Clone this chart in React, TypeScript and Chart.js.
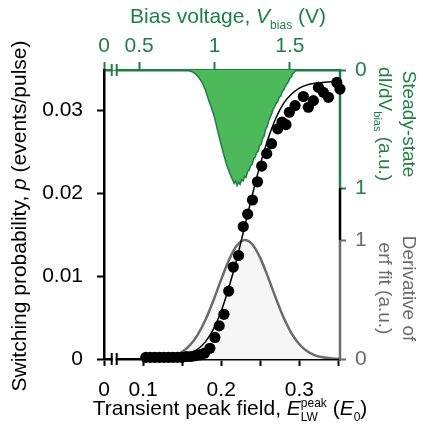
import React, { useEffect, useRef } from 'react';
import { Chart, registerables } from 'chart.js';

Chart.register(...registerables);

// ---- data ----
const fieldE = [0.1035, 0.1092, 0.115, 0.1208, 0.1265, 0.1323, 0.1381, 0.1438, 0.1496, 0.1554, 0.1612, 0.1669, 0.1727, 0.1785, 0.1855, 0.1919, 0.1974, 0.2035, 0.2096, 0.2154, 0.2221, 0.2282, 0.2338, 0.24, 0.2464, 0.2518, 0.2582, 0.2644, 0.2723, 0.2778, 0.2829, 0.2872, 0.2945, 0.3051, 0.3115, 0.3179, 0.3244, 0.3308, 0.3372, 0.3479, 0.352];
const switchP = [0.0002, 0.0002, 0.0002, 0.0002, 0.0002, 0.0002, 0.0002, 0.0002, 0.0002, 0.0003, 0.0003, 0.0004, 0.0005, 0.0007, 0.0013, 0.0026, 0.004, 0.0054, 0.0082, 0.0111, 0.0125, 0.016, 0.0175, 0.0192, 0.0214, 0.0233, 0.0248, 0.026, 0.0278, 0.0286, 0.0283, 0.0298, 0.0306, 0.0317, 0.0304, 0.0312, 0.0328, 0.0322, 0.0316, 0.0334, 0.0326];

const fitE = [0.1, 0.12, 0.14, 0.15, 0.16, 0.17, 0.18, 0.19, 0.2, 0.21, 0.22, 0.23, 0.24, 0.25, 0.26, 0.27, 0.28, 0.29, 0.3, 0.31, 0.32, 0.33, 0.35];
const fitP = [0, 0, 0.0001, 0.0003, 0.0006, 0.0012, 0.0021, 0.0036, 0.0058, 0.0087, 0.0121, 0.016, 0.0199, 0.0235, 0.0266, 0.0291, 0.0309, 0.032, 0.0327, 0.0331, 0.0333, 0.0334, 0.0335];

const derivE = [0.1, 0.12, 0.14, 0.15, 0.16, 0.17, 0.18, 0.19, 0.2, 0.21, 0.22, 0.23, 0.24, 0.25, 0.26, 0.27, 0.28, 0.29, 0.3, 0.31, 0.32, 0.33, 0.34, 0.35];
const derivY = [0.0006, 0.005, 0.029, 0.061, 0.116, 0.205, 0.332, 0.492, 0.669, 0.834, 0.953, 1.0, 0.962, 0.848, 0.686, 0.51, 0.346, 0.216, 0.124, 0.065, 0.031, 0.014, 0.0056, 0.002];

const biasV = [0.27, 0.8, 0.83, 0.86, 0.88, 0.9, 0.92, 0.94, 0.96, 0.98, 1.0, 1.02, 1.04, 1.06, 1.08, 1.1, 1.12, 1.13, 1.14, 1.15, 1.16, 1.17, 1.18, 1.19, 1.2, 1.21, 1.22, 1.23, 1.24, 1.25, 1.26, 1.27, 1.28, 1.29, 1.3, 1.31, 1.32, 1.33, 1.34, 1.35, 1.36, 1.37, 1.38, 1.39, 1.4, 1.41, 1.42, 1.43, 1.44, 1.45, 1.46, 1.47, 1.48, 1.49, 1.5, 1.51, 1.52, 1.53, 1.54];
const dIdV = [0, 0, 0.005, 0.02, 0.04, 0.07, 0.11, 0.17, 0.25, 0.32, 0.4, 0.51, 0.61, 0.71, 0.8, 0.87, 0.93, 0.96, 0.94, 0.98, 0.95, 0.97, 0.93, 0.94, 0.9, 0.91, 0.86, 0.85, 0.81, 0.8, 0.75, 0.74, 0.7, 0.69, 0.64, 0.63, 0.58, 0.56, 0.5, 0.48, 0.43, 0.4, 0.37, 0.33, 0.31, 0.28, 0.27, 0.23, 0.22, 0.18, 0.17, 0.14, 0.12, 0.1, 0.07, 0.06, 0.03, 0.02, 0];

// ---- ticks ----
const xTickVals = [0.05, 0.1, 0.15, 0.2, 0.25, 0.3, 0.35];
const xTickLabels = ['0', '0.1', '', '0.2', '', '0.3', ''];
const x2TickVals = [0.267, 0.5, 1, 1.5];
const x2TickLabels = ['0', '0.5', '1', '1.5'];
const yTickVals = [0, 0.01, 0.02, 0.03];
const yTickLabels = ['0', '0.01', '0.02', '0.03'];
const yGTickVals = [0, 1];
const yGTickLabels = ['0', '1'];
const yDTickVals = [0, 1];
const yDTickLabels = ['0', '1'];

const FONT = "'Liberation Sans', Arial, Helvetica, sans-serif";
const GREEN = '#1f7f45';
const GREEN_FILL = '#4cb95a';
const GREY = '#6b6b6b';
const BASE = 21;
const RBASE = 19;
const SMALL = 12;

type Seg = { t?: string; it?: boolean; sz?: number; sup?: string; sub?: string };

function fontOf(it: boolean, sz: number) {
  return `${it ? 'italic ' : ''}${sz}px ${FONT}`;
}

function segWidth(ctx: CanvasRenderingContext2D, s: Seg, base: number) {
  if (s.sup !== undefined || s.sub !== undefined) {
    ctx.font = fontOf(false, s.sz ?? SMALL);
    return Math.max(ctx.measureText(s.sup || '').width, ctx.measureText(s.sub || '').width);
  }
  ctx.font = fontOf(!!s.it, s.sz ?? base);
  return ctx.measureText(s.t || '').width;
}

function drawRich(ctx: CanvasRenderingContext2D, segs: Seg[], x: number, y: number, rot: number, color: string, base: number) {
  ctx.save();
  ctx.translate(x, y);
  ctx.rotate(rot);
  ctx.fillStyle = color;
  ctx.textBaseline = 'alphabetic';
  ctx.textAlign = 'left';
  const widths = segs.map((s) => segWidth(ctx, s, base));
  let cx = -widths.reduce((a, b) => a + b, 0) / 2;
  segs.forEach((s, i) => {
    if (s.sup !== undefined || s.sub !== undefined) {
      ctx.font = fontOf(false, s.sz ?? SMALL);
      if (s.sup) ctx.fillText(s.sup, cx, -base * 0.4);
      if (s.sub) ctx.fillText(s.sub, cx, base * 0.27);
    } else {
      ctx.font = fontOf(!!s.it, s.sz ?? base);
      ctx.fillText(s.t || '', cx, 0);
    }
    cx += widths[i];
  });
  ctx.restore();
}

const decorPlugin = {
  id: 'decor',
  afterLayout(chart: any) {
    const s = chart.scales.yG;
    s.right = chart.width;
    s.width = chart.width - s.left;
  },
  beforeDatasetsDraw(chart: any) {
    const { ctx, chartArea } = chart;
    const { left, right, top, bottom } = chartArea;
    const yG1 = chart.scales.yG.getPixelForValue(1);
    const yD1 = chart.scales.yD.getPixelForValue(1);
    ctx.save();
    ctx.lineWidth = 2.5;
    const seg = (a: number, b: number, c: string) => {
      ctx.strokeStyle = c;
      ctx.beginPath();
      ctx.moveTo(right, a);
      ctx.lineTo(right, b);
      ctx.stroke();
    };
    seg(top - 1.2, yG1, GREEN);
    seg(yG1, yD1, '#000');
    seg(yD1, bottom + 1.2, GREY);
    // axis breaks
    const brk = (y: number, color: string) => {
      ctx.fillStyle = '#fff';
      ctx.fillRect(left + 8.7, y - 2, 3, 4);
      ctx.strokeStyle = color;
      ctx.lineWidth = 2;
      [left + 7.7, left + 12.7].forEach((bx) => {
        ctx.beginPath();
        ctx.moveTo(bx, y - 6);
        ctx.lineTo(bx, y + 6);
        ctx.stroke();
      });
    };
    brk(bottom, '#000');
    brk(top, GREEN);
    ctx.restore();
  },
  afterDraw(chart: any) {
    const ctx = chart.ctx as CanvasRenderingContext2D;
    const { top, bottom } = chart.chartArea;
    const yG1 = chart.scales.yG.getPixelForValue(1);
    const yD1 = chart.scales.yD.getPixelForValue(1);
    // top title
    drawRich(ctx, [{ t: 'Bias voltage, ' }, { t: 'V', it: true }, { sub: 'bias' }, { t: ' (V)' }], 228, 23, 0, GREEN, BASE);
    // bottom title
    drawRich(ctx, [{ t: 'Transient peak field, ' }, { t: 'E', it: true }, { sup: 'peak', sub: 'LW' }, { t: ' (' }, { t: 'E', it: true }, { sub: '0' }, { t: ')' }], 230, 415, 0, '#000', BASE);
    // left title
    drawRich(ctx, [{ t: 'Switching probability, ' }, { t: 'p', it: true }, { t: ' (events/pulse)' }], 26, 216, -Math.PI / 2, '#000', BASE);
    // right green title
    const gC = (top + yG1) / 2 - 5;
    drawRich(ctx, [{ t: 'Steady-state' }], 403, gC, Math.PI / 2, GREEN, RBASE);
    drawRich(ctx, [{ t: 'dI/dV' }, { sub: 'bias', sz: 11 }, { t: ' (a.u.)' }], 379, gC, Math.PI / 2, GREEN, RBASE);
    // right grey title
    const dC = (yD1 + bottom) / 2 - 11;
    drawRich(ctx, [{ t: 'Derivative of' }], 403, dC, Math.PI / 2, GREY, RBASE);
    drawRich(ctx, [{ t: 'erf fit (a.u.)' }], 379, dC, Math.PI / 2, GREY, RBASE);
  },
};

function pickTicks(vals: number[]) {
  return (s: any) => {
    s.ticks = vals.map((v) => ({ value: v }));
  };
}

const tickFont = { family: FONT, size: BASE };

export default function App() {
  const ref = useRef<HTMLCanvasElement | null>(null);
  useEffect(() => {
    if (!ref.current) return;
    const chart = new Chart(ref.current, {
      type: 'line',
      data: {
        datasets: [
          {
            type: 'scatter',
            data: fieldE.map((x, i) => ({ x, y: switchP[i] })),
            xAxisID: 'x',
            yAxisID: 'y',
            pointRadius: 5.6,
            pointBackgroundColor: '#000',
            pointBorderColor: '#000',
            pointBorderWidth: 0,
            showLine: false,
            clip: false,
            order: 0,
          } as any,
          {
            type: 'line',
            data: fitE.map((x, i) => ({ x, y: fitP[i] })),
            xAxisID: 'x',
            yAxisID: 'y',
            borderColor: '#000',
            borderWidth: 1.5,
            pointRadius: 0,
            cubicInterpolationMode: 'monotone',
            fill: false,
            order: 1,
          } as any,
          {
            type: 'line',
            data: derivE.map((x, i) => ({ x, y: derivY[i] })),
            xAxisID: 'x',
            yAxisID: 'yD',
            borderColor: GREY,
            borderWidth: 2.5,
            backgroundColor: '#f6f6f6',
            fill: 'origin',
            pointRadius: 0,
            cubicInterpolationMode: 'monotone',
            order: 2,
          } as any,
          {
            type: 'line',
            data: biasV.map((x, i) => ({ x, y: dIdV[i] })),
            xAxisID: 'x2',
            yAxisID: 'yG',
            borderColor: GREEN,
            borderWidth: 1.5,
            backgroundColor: GREEN_FILL,
            fill: 'origin',
            pointRadius: 0,
            tension: 0,
            order: 3,
          } as any,
        ],
      },
      options: {
        responsive: false,
        animation: false,
        devicePixelRatio: 1,
        layout: { padding: 0 },
        plugins: { legend: { display: false }, tooltip: { enabled: false }, title: { display: false } },
        scales: {
          x: {
            type: 'linear',
            position: 'bottom',
            min: 0.05,
            max: 0.352,
            bounds: 'data',
            afterBuildTicks: pickTicks(xTickVals),
            afterFit: (s: any) => { s.height = 66; },
            ticks: { callback: (_v: any, i: number) => xTickLabels[i], font: tickFont, color: '#000', padding: 12, maxRotation: 0, autoSkip: false },
            grid: { drawOnChartArea: false, drawTicks: true, tickLength: 7, tickWidth: 2, tickColor: '#000' },
            border: { display: true, color: '#000', width: 2.5 },
          },
          x2: {
            type: 'linear',
            position: 'top',
            min: 0.267,
            max: 1.833,
            bounds: 'data',
            afterBuildTicks: pickTicks(x2TickVals),
            afterFit: (s: any) => { s.height = 70; },
            ticks: { callback: (_v: any, i: number) => x2TickLabels[i], font: tickFont, color: GREEN, padding: 3, maxRotation: 0, autoSkip: false },
            grid: { drawOnChartArea: false, drawTicks: true, tickLength: 8, tickWidth: 2, tickColor: GREEN },
            border: { display: true, color: GREEN, width: 2.5 },
          },
          y: {
            type: 'linear',
            position: 'left',
            min: 0,
            max: 0.0349,
            bounds: 'data',
            afterBuildTicks: pickTicks(yTickVals),
            afterFit: (s: any) => { s.width = 104; },
            ticks: { callback: (_v: any, i: number) => yTickLabels[i], font: tickFont, color: '#000', padding: 14, autoSkip: false },
            grid: { drawOnChartArea: false, drawTicks: true, tickLength: 7, tickWidth: 2, tickColor: '#000' },
            border: { display: true, color: '#000', width: 2.5 },
          },
          yG: {
            type: 'linear',
            position: 'right',
            reverse: true,
            weight: 0,
            min: 0,
            max: 2.449,
            bounds: 'data',
            afterBuildTicks: pickTicks(yGTickVals),
            afterFit: (s: any) => { s.width = 0; },
            ticks: { callback: (_v: any, i: number) => yGTickLabels[i], font: tickFont, color: GREEN, padding: 9, autoSkip: false },
            grid: { drawOnChartArea: false, drawTicks: true, tickLength: 6, tickWidth: 2, tickColor: GREEN },
            border: { display: false },
          },
          yD: {
            type: 'linear',
            position: 'right',
            weight: 1,
            min: 0,
            max: 2.4286,
            bounds: 'data',
            afterBuildTicks: pickTicks(yDTickVals),
            afterFit: (s: any) => { s.width = 83; },
            ticks: { callback: (_v: any, i: number) => yDTickLabels[i], font: tickFont, color: GREY, padding: 9, autoSkip: false },
            grid: { drawOnChartArea: false, drawTicks: true, tickLength: 6, tickWidth: 2, tickColor: GREY },
            border: { display: false },
          },
        },
      } as any,
      plugins: [decorPlugin],
    });
    return () => chart.destroy();
  }, []);
  return (
    <div style={{ position: 'absolute', left: 0, top: 0, width: 423, height: 425, background: '#fff' }}>
      <canvas ref={ref} width={423} height={425} style={{ display: 'block', width: 423, height: 425 }} />
    </div>
  );
}
